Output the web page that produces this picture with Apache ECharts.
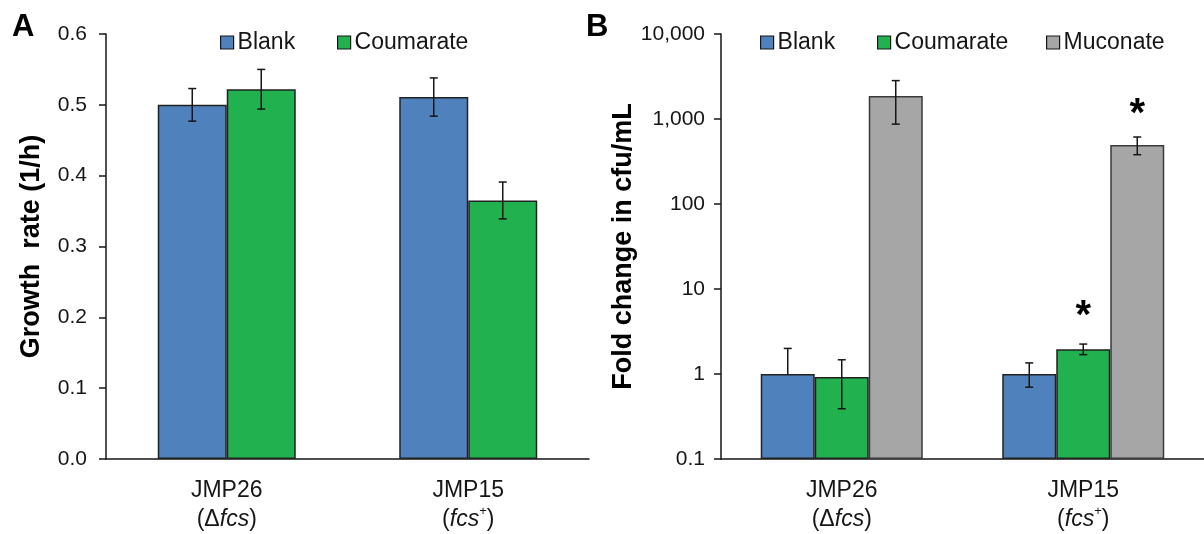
<!DOCTYPE html>
<html>
<head>
<meta charset="utf-8">
<script src="https://cdn.jsdelivr.net/npm/echarts@6/dist/echarts.min.js"></script>
<style>
  html, body { margin: 0; padding: 0; background: #fff; }
  #chart { width: 1204px; height: 534px; }
</style>
</head>
<body>
<div id="chart"></div>
<script>
// strains on the x axis
const strains = ['JMP26', 'JMP15'];
const notePrefix = ['Δ', ''];
const noteGene = ['fcs', 'fcs'];
const noteSup = ['', '+'];

// panel A - growth rate (1/h)
const growthBlank = [0.500, 0.511];
const growthBlankErr = [0.023, 0.027];
const growthCoumarate = [0.522, 0.365];
const growthCoumarateErr = [0.028, 0.026];
const growthTicks = [0, 0.6, 0.1];

// panel B - fold change in cfu/mL (log)
const foldBlank = [1.0, 1.0];
const foldBlankLow = [null, 0.70];
const foldBlankHigh = [2.0, 1.35];
const foldCoumarate = [0.92, 1.95];
const foldCoumarateLow = [0.39, 1.69];
const foldCoumarateHigh = [1.47, 2.25];
const foldMuconate = [1870, 494];
const foldMuconateLow = [870, 380];
const foldMuconateHigh = [2830, 614];
const sigCoumarate = ['', '*'];
const sigMuconate = ['', '*'];

const BLUE = '#4f81bd';
const GREEN = '#22b14f';
const GRAY = '#a6a6a6';
const INK = '#161616';

let chart = echarts.init(document.getElementById('chart'));

function catLabel(value, idx) {
    let s = '{n|' + value + '}\n{p|(' + notePrefix[idx] + '}{i|' + noteGene[idx] + '}';
    if (noteSup[idx]) s += '{s|' + noteSup[idx] + '}';
    return s + '{p|)}';
}

const catRich = {
    n: { fontSize: 23, lineHeight: 29, color: INK, fontFamily: 'Liberation Sans' },
    p: { fontSize: 23, lineHeight: 29, color: INK, fontFamily: 'Liberation Sans' },
    i: { fontSize: 23, lineHeight: 29, color: INK, fontStyle: 'italic', fontFamily: 'Liberation Sans' },
    s: { fontSize: 13, lineHeight: 29, color: INK, verticalAlign: 'top', padding: [0, 0, 10, 0], fontFamily: 'Liberation Sans' }
};

function xAxisFor(gridIndex) {
    return {
        type: 'category',
        gridIndex: gridIndex,
        data: strains,
        axisLine: { lineStyle: { color: INK, width: 1.5 } },
        axisTick: { length: 7, lineStyle: { color: INK, width: 1.5 } },
        axisLabel: { margin: 17, formatter: catLabel, rich: catRich }
    };
}

// error bars drawn on top of the bars
function errorBars(axisIdx, means, lows, highs, offset) {
    return {
        type: 'custom',
        xAxisIndex: axisIdx,
        yAxisIndex: axisIdx,
        z: 10,
        silent: true,
        data: means.map(function (m, i) { return [i, m, highs[i]]; }),
        encode: { x: 0, y: [1, 2] },
        renderItem: function (params, api) {
            let i = api.value(0);
            let mid = api.coord([i, api.value(1)]);
            let top = api.coord([i, api.value(2)]);
            let x = mid[0] + offset;
            let low = lows[params.dataIndex];
            let botY = low == null ? mid[1] : api.coord([i, low])[1];
            let st = { stroke: INK, lineWidth: 1.5 };
            let kids = [
                { type: 'line', shape: { x1: x, y1: top[1], x2: x, y2: botY }, style: st },
                { type: 'line', shape: { x1: x - 4, y1: top[1], x2: x + 4, y2: top[1] }, style: st }
            ];
            if (low != null) {
                kids.push({ type: 'line', shape: { x1: x - 4, y1: botY, x2: x + 4, y2: botY }, style: st });
            }
            return { type: 'group', children: kids };
        }
    };
}

function legendItem(name, left) {
    return {
        data: [name],
        left: left,
        top: 31,
        padding: 0,
        icon: 'rect',
        itemWidth: 13,
        itemHeight: 13,
        selectedMode: false,
        itemStyle: { borderColor: INK, borderWidth: 1.2 },
        textStyle: { fontSize: 23, color: INK, fontFamily: 'Liberation Sans', padding: [0, 0, 0, -1] }
    };
}

function fmtLog(v) {
    let n = Number(v.toPrecision(6));
    if (n < 1) return String(n);
    return String(n).replace(/\B(?=(\d{3})+(?!\d))/g, ',');
}

const barEdge = { borderColor: '#222', borderWidth: 1.5 };

const option = {
    animation: false,
    textStyle: { fontFamily: 'Liberation Sans' },
    graphic: [
        { type: 'text', left: 12, top: 12, style: { text: 'A', fontSize: 31, fontWeight: 'bold', fill: '#000', fontFamily: 'Liberation Sans' } },
        { type: 'text', left: 586, top: 12, style: { text: 'B', fontSize: 31, fontWeight: 'bold', fill: '#000', fontFamily: 'Liberation Sans' } }
    ],
    legend: [
        legendItem('Blank', 220),
        legendItem('Coumarate', 337),
        legendItem('Blank', 760),
        legendItem('Coumarate', 877),
        legendItem('Muconate', 1046)
    ],
    grid: [
        { left: 106, right: 615, top: 34, bottom: 75 },
        { left: 721, right: 0, top: 34, bottom: 75 }
    ],
    xAxis: [xAxisFor(0), xAxisFor(1)],
    yAxis: [
        {
            type: 'value',
            gridIndex: 0,
            min: growthTicks[0],
            max: growthTicks[1],
            interval: growthTicks[2],
            name: 'Growth  rate (1/h)',
            nameLocation: 'middle',
            nameGap: 61,
            nameTextStyle: { fontSize: 27, fontWeight: 'bold', color: '#000', fontFamily: 'Liberation Sans' },
            splitLine: { show: false },
            axisLine: { show: true, lineStyle: { color: INK, width: 1.5 } },
            axisTick: { show: true, length: 7, lineStyle: { color: INK, width: 1.5 } },
            axisLabel: { fontSize: 21, color: INK, margin: 19, formatter: function (v) { return v.toFixed(1); } }
        },
        {
            type: 'log',
            gridIndex: 1,
            logBase: 10,
            min: 0.1,
            max: 10000,
            startValue: 0.1,
            name: 'Fold change in cfu/mL',
            nameLocation: 'middle',
            nameGap: 81,
            nameTextStyle: { fontSize: 27, fontWeight: 'bold', color: '#000', fontFamily: 'Liberation Sans' },
            splitLine: { show: false },
            minorTick: { show: false },
            axisLine: { show: true, lineStyle: { color: INK, width: 1.5 } },
            axisTick: { show: true, length: 7, lineStyle: { color: INK, width: 1.5 } },
            axisLabel: { fontSize: 21, color: INK, margin: 16, formatter: fmtLog }
        }
    ],
    series: [
        { name: 'Blank', type: 'bar', xAxisIndex: 0, yAxisIndex: 0, data: growthBlank, barWidth: 69, barGap: '0%', itemStyle: Object.assign({ color: BLUE }, barEdge) },
        { name: 'Coumarate', type: 'bar', xAxisIndex: 0, yAxisIndex: 0, data: growthCoumarate, barWidth: 69, barGap: '0%', itemStyle: Object.assign({ color: GREEN }, barEdge) },
        errorBars(0, growthBlank, growthBlank.map(function (v, i) { return v - growthBlankErr[i]; }), growthBlank.map(function (v, i) { return v + growthBlankErr[i]; }), -34.5),
        errorBars(0, growthCoumarate, growthCoumarate.map(function (v, i) { return v - growthCoumarateErr[i]; }), growthCoumarate.map(function (v, i) { return v + growthCoumarateErr[i]; }), 34.5),

        { name: 'Blank', type: 'bar', xAxisIndex: 1, yAxisIndex: 1, data: foldBlank, barWidth: 54, barGap: '0%', itemStyle: Object.assign({ color: BLUE }, barEdge) },
        {
            name: 'Coumarate', type: 'bar', xAxisIndex: 1, yAxisIndex: 1, data: foldCoumarate, barWidth: 54, barGap: '0%',
            itemStyle: Object.assign({ color: GREEN }, barEdge),
            label: { show: true, position: 'top', distance: 12, fontSize: 40, fontWeight: 'bold', color: '#000', formatter: function (p) { return sigCoumarate[p.dataIndex]; } }
        },
        {
            name: 'Muconate', type: 'bar', xAxisIndex: 1, yAxisIndex: 1, data: foldMuconate, barWidth: 54, barGap: '0%',
            itemStyle: { color: GRAY, borderColor: '#3a3a3a', borderWidth: 1.5 },
            label: { show: true, position: 'top', distance: 10, fontSize: 40, fontWeight: 'bold', color: '#000', formatter: function (p) { return sigMuconate[p.dataIndex]; } }
        },
        errorBars(1, foldBlank, foldBlankLow, foldBlankHigh, -54),
        errorBars(1, foldCoumarate, foldCoumarateLow, foldCoumarateHigh, 0),
        errorBars(1, foldMuconate, foldMuconateLow, foldMuconateHigh, 54)
    ]
};

chart.setOption(option);
</script>
</body>
</html>
